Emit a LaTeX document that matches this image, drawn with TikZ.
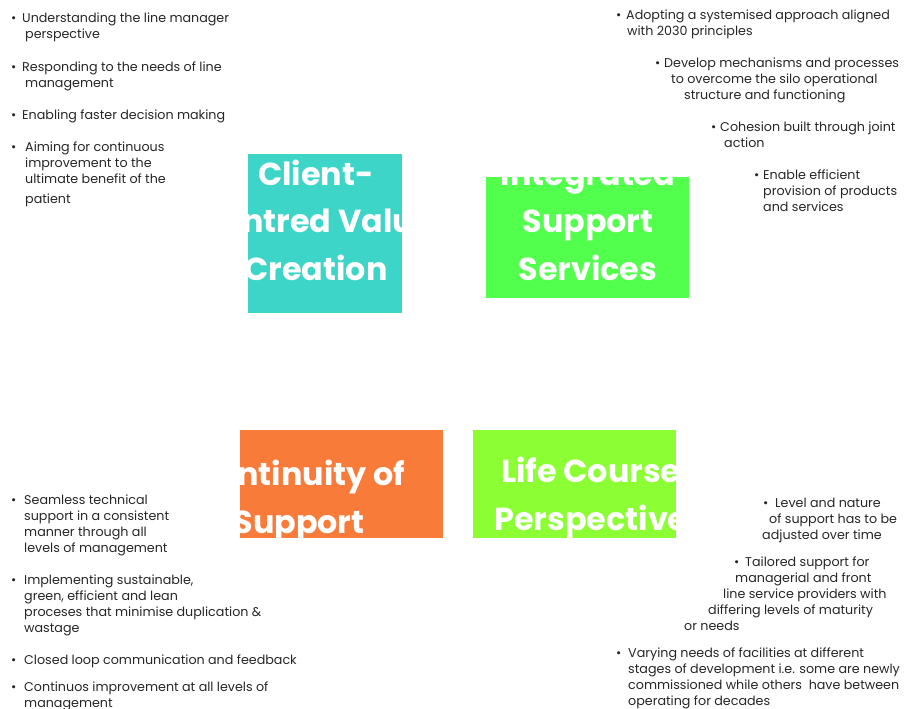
\documentclass[tikz,border=0pt]{standalone}
\usepackage{fontspec}
\setmainfont{Poppins}
\usetikzlibrary{positioning}

\definecolor{cvcCyan}{RGB}{61,213,200}
\definecolor{issGreen}{RGB}{82,255,77}
\definecolor{cosOrange}{RGB}{249,123,58}
\definecolor{lcpLime}{RGB}{139,255,51}
\definecolor{bodyGrey}{RGB}{38,38,38}

\newcommand{\bul}[1][11pt]{\makebox[#1][l]{•}}

\tikzset{
    panel/.style={anchor=north west, inner sep=0pt, outer sep=0pt},
    paneltext/.style={text=white, align=center, inner sep=0pt,
        font=\fontsize{31.8}{47.5}\selectfont\bfseries},
    point/.style={anchor=base west, inner sep=0pt, align=left, text=bodyGrey,
        font=\fontsize{12.7}{16}\selectfont},
}

\begin{document}
\begin{tikzpicture}[x=1pt, y=-1pt]
    \useasboundingbox (0,0) rectangle (907,709);

    % the four panels
    \node[panel, fill=cvcCyan, minimum width=154pt, minimum height=159pt] (cvc) at (248,154) {};
    \node[panel, fill=issGreen, minimum width=203pt, minimum height=121pt] (iss) at (486,177) {};
    \node[panel, fill=cosOrange, minimum width=203pt, minimum height=108pt] (cos) at (240,430) {};
    \node[panel, fill=lcpLime, minimum width=203pt, minimum height=108pt] (lcp) at (473,430) {};

    % panel titles, cut off at the panel edges (base = last line)
    \begin{scope}
        \clip (cvc.north west) rectangle (cvc.south east);
        \node[paneltext, anchor=base] (cvcText) at (316,280) {Client-\\Centred Value\\Creation};
    \end{scope}
    \begin{scope}
        \clip (iss.north west) rectangle (iss.south east);
        \node[paneltext, anchor=base] (issText) at (588,280) {Integrated\\Support\\Services};
    \end{scope}
    \begin{scope}
        \clip (cos.north west) rectangle (cos.south east);
        \node[paneltext, anchor=base] (cosText) at (299,533) {Continuity of\\Support};
    \end{scope}
    \begin{scope}
        \clip (lcp.north west) rectangle (lcp.south east);
        \node[paneltext, anchor=base] (lcpText) at (591,530) {Life Course\\Perspective};
    \end{scope}

    % top left
    \node[point] (cvcA) at (11,39) {\bul Understanding the line manager\\\hspace*{14pt}perspective};
    \node[point] (cvcB) at (11,87) {\bul Responding to the needs of line\\\hspace*{14pt}management};
    \node[point] (cvcC) at (11,119) {\bul Enabling faster decision making};
    \node[point] (cvcD) at (11,203) {\bul[14pt]Aiming for continuous\\\hspace*{14pt}improvement to the\\\hspace*{14pt}ultimate benefit of the\\[4pt]\hspace*{14pt}patient};

    % top right
    \node[point] (issA) at (616,36) {\bul[10pt]Adopting a systemised approach aligned\\\hspace*{11pt}with 2030 principles};
    \node[point] (issB) at (655,99) {\bul[9pt]Develop mechanisms and processes\\\hspace*{16pt}to overcome the silo operational\\\hspace*{29pt}structure and functioning};
    \node[point] (issC) at (711,147) {\bul[9pt]Cohesion built through joint\\\hspace*{13pt}action};
    \node[point] (issD) at (754,211) {\bul[9pt]Enable efficient\\\hspace*{9pt}provision of products\\\hspace*{9pt}and services};

    % bottom left
    \node[point] (cosA) at (11,552) {\bul[13pt]Seamless technical\\\hspace*{13pt}support in a consistent\\\hspace*{13pt}manner through all\\\hspace*{13pt}levels of management};
    \node[point] (cosB) at (11,632) {\bul[13pt]Implementing sustainable,\\\hspace*{13pt}green, efficient and lean\\\hspace*{13pt}proceses that minimise duplication \&\\\hspace*{13pt}wastage};
    \node[point] (cosC) at (11,664) {\bul[13pt]Closed loop communication and feedback};
    \node[point] (cosD) at (11,707) {\bul[13pt]Continuos improvement at all levels of\\\hspace*{13pt}management};

    % bottom right
    \node[point] (lcpA) at (762,539) {\hspace*{1pt}\bul[12pt]Level and nature\\\hspace*{7pt}of support has to be\\adjusted over time};
    \node[point] (lcpB) at (684,630) {\hspace*{50pt}\bul[11pt]Tailored support for\\\hspace*{51pt}managerial and front\\\hspace*{39pt}line service providers with\\\hspace*{24pt}differing levels of maturity\\or needs};
    \node[point] (lcpC) at (616,705) {\bul[12pt]Varying needs of facilities at different\\\hspace*{12pt}stages of development i.e. some are newly\\\hspace*{12pt}commissioned while others\ \ have between\\\hspace*{12pt}operating for decades};
\end{tikzpicture}
\end{document}
